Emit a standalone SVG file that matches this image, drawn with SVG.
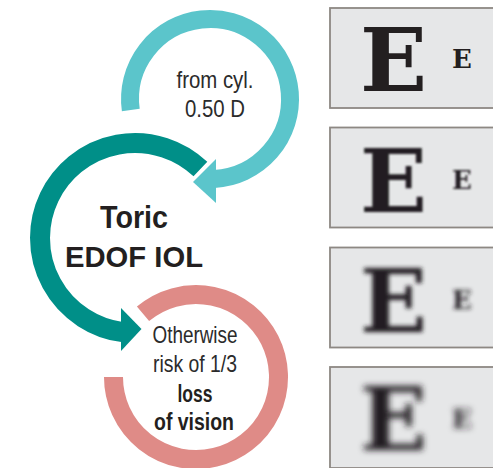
<svg xmlns="http://www.w3.org/2000/svg" width="493" height="468" viewBox="0 0 493 468">
<style>
.ring{fill:none}
.light{stroke:#5bc5cb;stroke-width:18}
.dark{stroke:#008f88;stroke-width:20}
.pink{stroke:#df8b87;stroke-width:19}
.t{font-family:"Liberation Sans",Arial,sans-serif;fill:#2b2b2b;text-anchor:middle}
.b{font-weight:bold;fill:#231f20}
.box{fill:#e6e7e8;stroke:#8d8883;stroke-width:1.8}
.bigE{font-family:"DejaVu Serif",serif;font-weight:bold;font-size:88px;fill:#231f20}
.smE{font-family:"DejaVu Serif",serif;font-weight:bold;font-size:26px;fill:#231f20}
</style>
<defs>
<filter id="blur1" x="-40%" y="-40%" width="180%" height="180%"><feGaussianBlur stdDeviation="1.1"/></filter>
<filter id="blur2" x="-40%" y="-40%" width="180%" height="180%"><feGaussianBlur stdDeviation="2"/></filter>
<filter id="blur3" x="-40%" y="-40%" width="180%" height="180%"><feGaussianBlur stdDeviation="3"/></filter>
</defs>

<g id="cyl">
<path class="ring light" d="M130.8,110.1 A80,80 0 1 1 214.2,178.9"/>
<polygon points="216,159 193,182 216,203" fill="#5bc5cb"/>
<text class="t" x="215" y="88" font-size="24" textLength="77" lengthAdjust="spacingAndGlyphs">from cyl.</text>
<text class="t" x="215" y="117" font-size="24" textLength="60" lengthAdjust="spacingAndGlyphs">0.50 D</text>
</g>

<g id="toric">
<path class="ring dark" d="M200.4,169.1 A95,95 0 1 0 122.6,332.2"/>
<polygon points="121,308 141.5,329 121,351" fill="#008f88"/>
<text class="t b" x="134" y="228" font-size="31" textLength="68" lengthAdjust="spacingAndGlyphs">Toric</text>
<text class="t b" x="134" y="267" font-size="30" textLength="138" lengthAdjust="spacingAndGlyphs">EDOF IOL</text>
</g>

<g id="risk">
<path class="ring pink" d="M143,313.8 A82.5,82.5 0 1 1 113.5,377"/>
<text class="t" x="195" y="343" font-size="24" textLength="85" lengthAdjust="spacingAndGlyphs">Otherwise</text>
<text class="t" x="195" y="372" font-size="24" textLength="84" lengthAdjust="spacingAndGlyphs">risk of 1/3</text>
<text class="t b" x="195" y="402" font-size="23" textLength="35" lengthAdjust="spacingAndGlyphs">loss</text>
<text class="t b" x="194" y="430" font-size="23" textLength="80" lengthAdjust="spacingAndGlyphs">of vision</text>
</g>

<g id="connectors"></g>

<g id="chart1">
<rect class="box" x="330" y="8" width="200" height="100"/>
<text class="bigE" x="360" y="91">E</text>
<text class="smE" x="452" y="68">E</text>
</g>
<g id="chart2">
<rect class="box" x="330" y="127.5" width="200" height="100"/>
<g filter="url(#blur1)">
<text class="bigE" x="360" y="211.5">E</text>
<text class="smE" x="452" y="189">E</text>
</g>
</g>
<g id="chart3">
<rect class="box" x="330" y="247.5" width="200" height="100"/>
<g filter="url(#blur2)">
<text class="bigE" x="360" y="331.5">E</text>
<text class="smE" x="452" y="309">E</text>
</g>
</g>
<g id="chart4">
<rect class="box" x="330" y="367" width="200" height="101"/>
<g filter="url(#blur3)">
<text class="bigE" x="360" y="450">E</text>
<text class="smE" x="452" y="428">E</text>
</g>
</g>
</svg>
